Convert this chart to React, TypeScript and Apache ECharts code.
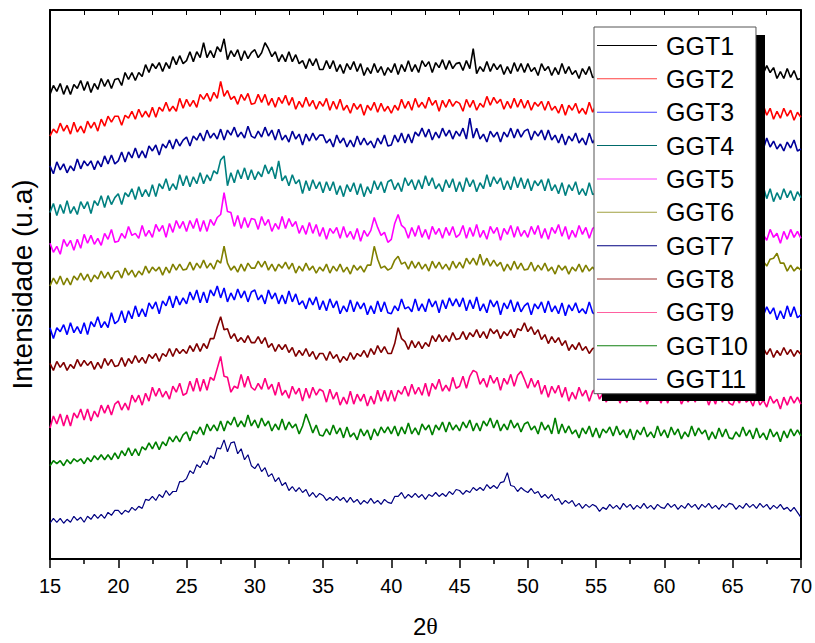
import React, { useEffect, useRef } from "react";
import * as echarts from "echarts";

// 2θ sampling: 15° to 70° every 0.25° (221 readings per pattern)
const startAngle = 15;
const stepAngle = 0.25;

const seriesNames = ["GGT1", "GGT2", "GGT3", "GGT4", "GGT5", "GGT6", "GGT7", "GGT8", "GGT9", "GGT10", "GGT11"];

const ggt1 = [
 468,477,471,479,468,477,468,478,474,482,472,481,470,479,473,484,476,483,474,483,
 484,477,490,483,490,482,490,486,498,490,499,494,500,491,500,494,506,498,507,499,
 502,511,501,511,505,520,505,512,505,516,511,524,503,512,506,513,502,512,504,510,
 513,505,510,520,514,506,511,501,508,501,511,501,508,499,502,494,504,497,504,493,
 493,502,494,502,491,498,489,499,493,501,491,499,487,495,489,499,490,496,487,495,
 490,499,488,498,491,502,491,498,490,502,496,501,490,500,495,503,493,502,494,499,
 500,492,502,494,514,489,496,491,501,491,499,493,498,488,496,489,500,491,499,490,
 499,491,495,487,499,492,496,487,495,488,499,489,496,488,492,484,494,488,496,485,
 486,495,488,496,485,493,484,494,489,497,487,495,484,492,486,496,488,494,485,493,
 488,496,485,494,487,497,486,492,484,495,489,494,483,493,488,496,486,495,487,492,
 493,485,497,489,495,485,493,488,499,489,497,490,495,484,491,484,494,485,492,483,
 484];
const ggt2 = [
 426,433,429,439,431,437,428,440,430,436,429,441,434,440,431,443,436,446,440,446,
 446,437,447,444,451,443,453,445,451,445,455,445,455,451,460,451,456,451,464,454,
 463,456,462,455,468,463,469,461,470,464,481,466,472,463,466,458,468,462,469,458,
 459,468,460,468,457,464,455,465,459,467,457,465,453,461,455,465,456,462,453,461,
 456,464,452,461,453,463,452,457,449,459,453,458,447,457,452,460,450,459,451,456,
 449,457,452,463,454,461,452,464,455,460,454,465,457,462,451,462,455,463,456,461,
 459,451,463,455,462,452,459,455,466,457,465,459,463,453,461,454,464,455,463,454,
 462,452,460,456,461,452,461,452,456,449,458,447,457,452,459,449,454,448,460,450,
 458,450,455,447,459,452,457,447,455,448,459,450,457,449,453,446,456,450,458,447,
 446,453,448,458,449,455,446,457,447,452,445,456,449,454,444,455,448,457,450,456,
 447,456,449,457,445,453,444,454,449,457,447,454,443,451,444,454,446,452,442,450,
 445];
const ggt3 = [
 396,388,400,392,398,389,396,391,403,393,401,396,401,392,401,395,406,398,407,398,
 401,410,400,410,404,414,404,411,404,416,411,417,407,418,414,422,413,423,416,422,
 425,416,426,422,429,421,432,424,429,423,433,422,432,427,435,425,430,424,436,426,
 424,431,425,435,426,432,422,433,422,427,420,431,423,428,417,428,421,429,422,427,
 427,419,423,415,427,419,424,415,422,415,426,417,424,417,421,414,424,418,427,416,
 417,427,420,429,419,428,419,430,426,434,425,433,422,430,424,434,426,432,423,431,
 426,434,423,444,424,434,423,428,420,431,425,430,420,430,425,434,424,433,425,431,
 433,422,431,426,432,422,432,422,427,419,428,417,426,421,429,419,424,417,429,419,
 425,417,428,420,426,416,423,418,428,418,425,419,423,414,421,415,425,417,424,416,
 415,422,417,427,418,424,415,425,415,419,413,423,416,421,411,422,415,424,417,422,
 423,415,420,412,424,417,421,412,420,413,424,415,421,413,418,411,420,414,422,411,
 413];
const ggt4 = [
 349,358,346,357,348,361,348,355,347,360,353,360,348,361,356,366,354,366,357,364,
 368,357,369,365,373,362,375,365,372,365,377,365,378,373,383,371,378,372,387,376,
 386,375,385,378,389,378,387,381,391,388,402,406,376,389,379,392,383,394,382,392,
 382,390,385,397,388,395,383,401,381,386,376,387,378,382,368,381,371,382,373,380,
 369,380,371,380,367,376,365,377,370,379,367,378,365,375,368,381,372,380,369,380,
 382,372,379,370,384,376,382,372,382,373,386,376,384,373,378,370,382,374,383,370,
 380,370,384,375,382,370,379,373,387,375,385,378,384,372,381,372,385,374,384,373,
 383,371,381,376,382,371,383,371,377,368,379,366,377,371,380,367,373,366,379,367,
 369,378,365,376,367,379,366,372,364,376,369,375,362,374,368,377,365,376,366,372,
 363,371,365,377,367,369,363,376,364,370,362,374,366,372,360,373,364,375,367,374,
 363,374,366,375,362,372,361,373,367,375,363,373,360,369,362,373,364,371,361,370,
 364];
const ggt5 = [
 318,309,315,307,322,315,321,311,322,313,327,318,326,317,323,316,328,322,332,319,
 320,328,323,335,326,328,323,336,325,331,324,337,330,336,324,338,329,341,333,340,
 330,341,333,343,330,341,330,342,336,344,347,369,350,349,335,346,333,344,334,343,
 342,332,345,336,342,330,338,332,345,333,343,335,340,328,336,327,339,328,337,325,
 334,322,333,328,334,323,335,324,330,322,333,320,331,325,331,344,334,326,329,319,
 322,338,347,336,333,323,334,325,336,324,332,322,335,327,333,323,334,326,335,324,
 327,336,323,334,325,337,324,331,322,335,328,334,321,333,327,336,324,335,325,331,
 324,335,327,336,323,333,322,334,328,337,325,335,322,331,324,336,327,334,323,333,
 335,325,331,322,336,328,334,323,332,324,336,327,334,325,330,322,334,327,335,323,
 332,322,335,326,333,321,329,323,336,324,334,327,333,321,330,322,335,324,334,323,
 321,329,323,334,325,327,322,333,322,327,321,332,324,328,318,330,322,332,324,330,
 323];
const ggt6 = [
 275,283,277,285,276,283,276,285,281,288,281,287,279,286,282,290,283,289,282,289,
 290,283,293,286,291,284,290,286,295,288,294,290,294,286,294,288,297,291,297,291,
 292,299,291,298,293,301,293,298,292,301,298,315,298,291,295,289,297,290,298,293,
 293,300,294,300,291,297,290,297,293,299,292,298,288,295,290,298,291,295,288,294,
 290,297,288,295,290,297,289,294,287,296,291,295,289,296,296,315,302,293,295,291,
 293,301,305,297,299,292,300,293,299,292,297,290,300,293,299,292,297,291,300,293,
 299,293,303,297,303,296,307,296,303,295,301,295,299,290,297,291,300,292,298,291,
 292,299,290,296,291,298,290,294,287,296,291,295,287,294,290,297,289,296,290,294,
 289,296,290,297,288,295,287,296,292,298,291,297,288,295,290,298,291,296,289,295,
 296,289,298,291,297,289,295,291,299,292,298,293,297,289,296,290,299,292,298,292,
 293,300,291,298,294,301,293,298,291,300,295,302,303,308,298,298,290,296,290,294,
 291];
const ggt7 = [
 233,222,233,229,236,226,238,228,234,227,238,226,239,234,244,233,239,233,248,237,
 240,250,238,250,242,255,244,252,244,258,252,259,247,260,255,265,253,265,256,263,
 257,269,261,271,258,269,258,271,265,275,263,273,259,268,261,272,263,270,259,269,
 271,261,266,257,271,262,268,257,266,257,270,259,267,256,260,252,263,256,264,251,
 260,250,262,253,260,247,255,249,261,249,259,252,258,246,255,247,260,249,259,248,
 247,255,250,262,252,254,249,262,250,257,249,262,254,260,248,261,252,263,255,262,
 254,263,250,261,252,264,250,257,248,261,254,260,246,258,252,261,249,259,249,255,
 258,246,257,252,259,248,260,249,255,247,258,245,256,250,258,248,252,247,259,248,
 246,257,249,258,245,255,244,256,250,259,246,256,243,252,245,257,248,255,244,254,
 256,246,252,243,257,249,255,244,253,244,257,247,255,245,250,242,254,247,256,243,
 253,243,256,247,254,242,250,244,257,245,254,247,253,241,250,242,255,244,254,243,
 246];
const ggt8 = [
 197,190,199,193,198,190,196,192,201,194,200,195,199,191,198,192,202,195,201,194,
 195,203,194,202,197,205,198,203,197,206,202,207,199,207,204,212,204,212,207,211,
 207,215,209,217,209,217,212,222,222,234,244,231,232,222,227,219,223,218,225,218,
 218,224,217,223,213,217,209,216,211,216,208,213,204,210,205,212,204,209,201,207,
 207,200,209,202,206,198,204,200,208,201,207,204,210,203,212,206,215,208,214,207,
 207,217,233,222,219,211,220,213,219,212,218,214,225,219,226,219,225,219,228,221,
 222,229,221,228,224,231,223,229,222,232,227,231,222,229,225,231,223,232,230,238,
 229,234,226,231,221,226,217,224,218,223,215,220,210,216,211,218,210,214,207,212,
 213,206,215,208,212,204,210,206,214,207,213,208,212,204,211,205,214,207,213,206,
 207,214,205,212,207,214,206,211,204,213,207,211,203,210,206,213,205,212,206,210,
 205,212,206,213,204,210,203,211,207,213,206,212,203,210,205,213,206,211,204,210,
 206];
const ggt9 = [
 132,144,136,146,134,145,134,147,142,151,140,151,139,149,143,155,147,155,145,156,
 159,150,157,150,165,158,165,155,167,159,173,164,172,163,169,161,174,168,177,165,
 167,179,169,182,169,181,170,183,180,192,204,184,183,168,174,172,186,173,184,173,
 170,177,171,182,171,176,165,178,165,170,162,174,166,172,159,172,162,173,165,171,
 169,158,171,161,168,155,163,156,169,156,166,159,166,154,164,156,170,159,170,159,
 170,159,170,166,174,164,176,166,173,165,177,164,177,171,181,169,175,169,183,172,
 174,184,172,184,190,188,176,182,173,185,177,183,170,182,176,186,174,185,189,181,
 172,182,173,180,166,175,163,174,167,175,163,173,159,168,161,173,164,170,159,169,
 171,161,167,158,171,163,168,157,166,158,168,161,166,158,164,156,167,161,169,157,
 167,157,170,161,167,156,163,158,170,158,167,161,166,155,164,156,169,158,167,157,
 155,163,157,168,158,161,154,166,155,160,153,164,157,161,151,163,155,164,157,163,
 156];
const ggt10 = [
 94,99,96,99,94,100,96,101,98,101,96,102,98,104,100,105,100,105,100,107,
 101,109,104,112,104,111,104,113,110,117,111,118,110,118,114,123,118,124,118,125,
 128,119,129,126,133,125,136,129,135,129,139,129,139,135,143,133,139,133,145,134,
 140,132,142,134,139,129,136,130,141,130,138,132,136,126,134,146,137,127,135,125,
 124,131,125,135,126,132,122,133,123,127,120,131,124,130,120,131,124,133,127,133,
 126,134,124,133,126,137,126,132,125,136,130,135,125,135,130,138,128,138,130,135,
 129,138,132,140,129,137,129,139,134,142,132,140,129,136,130,140,132,137,128,136,
 138,130,134,126,138,130,135,126,142,126,136,127,134,126,130,122,132,126,134,123,
 132,122,131,127,133,124,134,125,130,122,131,120,130,125,133,123,128,122,134,124,
 130,122,133,125,131,121,128,123,134,124,132,126,130,120,128,121,132,123,131,122,
 121,128,123,133,124,130,121,132,122,127,120,131,123,128,118,129,122,131,124,130,
 124];
const ggt11 = [
 36,41,37,41,36,40,37,43,39,42,37,43,40,45,41,45,41,47,44,49,
 49,45,49,47,52,49,53,51,60,59,63,59,65,62,69,64,68,68,78,78,
 81,89,86,95,92,99,95,104,101,112,111,120,108,117,118,106,111,100,105,94,
 91,96,88,92,83,86,78,82,74,77,69,73,68,72,67,70,63,67,62,66,
 64,59,62,59,63,59,62,57,62,57,60,55,59,56,61,56,59,55,60,57,
 56,63,63,67,61,65,62,66,62,65,60,65,63,67,63,66,63,68,65,70,
 69,65,69,67,72,69,72,69,75,71,74,71,77,78,87,74,73,68,72,69,
 67,71,66,68,62,65,61,65,59,61,55,59,56,59,53,56,51,55,52,55,
 53,48,52,50,55,51,54,50,56,52,55,50,54,51,56,51,54,50,55,52,
 51,56,52,55,50,54,51,56,52,55,50,55,52,56,51,54,50,55,52,56,
 55,50,54,51,56,52,55,51,56,52,55,50,54,51,55,50,52,48,52,47,
 42];

const allValues = [ggt1, ggt2, ggt3, ggt4, ggt5, ggt6, ggt7, ggt8, ggt9, ggt10, ggt11];

const xTickLabels = ["15", "20", "25", "30", "35", "40", "45", "50", "55", "60", "65", "70"];

const lineColors = ["#000000", "#FF0000", "#000099", "#008080", "#FF00FF", "#808000", "#0000FF", "#800000", "#FF0080", "#008000", "#000080"];
const legendColors = ["#000000", "#FF4040", "#4040FF", "#006A6A", "#FF40FF", "#A0A040", "#000080", "#A03030", "#FF60A0", "#108010", "#3030C0"];

const FONT = "'Liberation Sans', Arial, Helvetica, sans-serif";

export default function App() {
  const ref = useRef<HTMLDivElement>(null);
  useEffect(() => {
    if (!ref.current) return;
    const chart = echarts.init(ref.current, null, { renderer: "svg" });
    const series = allValues.map((vals, k) => ({
      name: seriesNames[k],
      type: "line",
      xAxisIndex: 0,
      yAxisIndex: 0,
      showSymbol: false,
      symbol: "none",
      data: vals.map((v, i) => [startAngle + stepAngle * i, v]),
      lineStyle: { color: lineColors[k], width: k === 10 ? 1.2 : 1.6 },
      itemStyle: { color: lineColors[k] },
      z: 2,
    }));
    chart.setOption({
      animation: false,
      backgroundColor: "#ffffff",
      grid: { left: 50, right: 13, top: 10, bottom: 80, containLabel: false },
      xAxis: [
        {
          type: "value",
          position: "bottom",
          min: 15,
          max: 70,
          interval: 5,
          axisLine: { show: true, onZero: false, lineStyle: { color: "#000", width: 2 } },
          axisTick: { show: true, inside: false, length: 9, lineStyle: { color: "#000", width: 1.5 } },
          minorTick: { show: true, splitNumber: 2, length: 5, lineStyle: { color: "#000", width: 1.5 } },
          axisLabel: {
            show: true,
            margin: 17,
            fontSize: 20,
            fontFamily: FONT,
            color: "#000",
            formatter: (v: number) => xTickLabels[Math.round((v - 15) / 5)] ?? "",
          },
          splitLine: { show: false },
          name: "{a|2}{b|θ}",
          nameLocation: "middle",
          nameGap: 55,
          nameTextStyle: {
            rich: {
              a: { fontSize: 24, fontFamily: FONT, color: "#000" },
              b: { fontSize: 24, fontFamily: "'Liberation Serif', 'DejaVu Serif', serif", color: "#000" },
            },
          },
        },
        {
          type: "value",
          position: "top",
          min: 15,
          max: 70,
          interval: 5,
          axisLine: { show: true, onZero: false, lineStyle: { color: "#000", width: 2 } },
          axisTick: { show: true, inside: true, length: 5, lineStyle: { color: "#000", width: 1 } },
          minorTick: { show: true, splitNumber: 2, length: 5, lineStyle: { color: "#000", width: 1 } },
          axisLabel: { show: false },
          splitLine: { show: false },
        },
      ],
      yAxis: [
        {
          type: "value",
          position: "left",
          min: 0,
          max: 553,
          axisLine: { show: true, onZero: false, lineStyle: { color: "#000", width: 2 } },
          axisTick: { show: false },
          axisLabel: { show: false },
          splitLine: { show: false },
          name: "Intensidade (u.a)",
          nameLocation: "middle",
          nameGap: 14,
          nameTextStyle: { fontSize: 28, fontFamily: FONT, color: "#000" },
        },
        {
          type: "value",
          position: "right",
          min: 0,
          max: 553,
          axisLine: { show: true, onZero: false, lineStyle: { color: "#000", width: 2 } },
          axisTick: { show: false },
          axisLabel: { show: false },
          splitLine: { show: false },
        },
      ],
      legend: {
        orient: "vertical",
        left: 594,
        top: 27,
        padding: [6, 8, 2, 3],
        itemGap: 8.37,
        itemWidth: 60,
        itemHeight: 14,
        selectedMode: false,
        backgroundColor: "#ffffff",
        borderColor: "#555555",
        borderWidth: 1,
        z: 10,
        textStyle: { fontSize: 25, lineHeight: 25, fontFamily: FONT, color: "#000", padding: [0, 0, 0, 4] },
        data: seriesNames.map((n, i) => ({
          name: n,
          icon: "path://M0,0 L60,0 L60,1 L0,1 Z",
          itemStyle: { color: legendColors[i] },
          lineStyle: { color: legendColors[i], width: 1.5 },
        })),
      },
      graphic: [
        {
          type: "rect",
          z: 9,
          shape: { x: 602, y: 35, width: 163, height: 366 },
          style: { fill: "#000000" },
        },
      ],
      series,
    });
    return () => chart.dispose();
  }, []);
  return <div ref={ref} style={{ position: "absolute", left: 0, top: 0, width: 815, height: 643 }} />;
}
